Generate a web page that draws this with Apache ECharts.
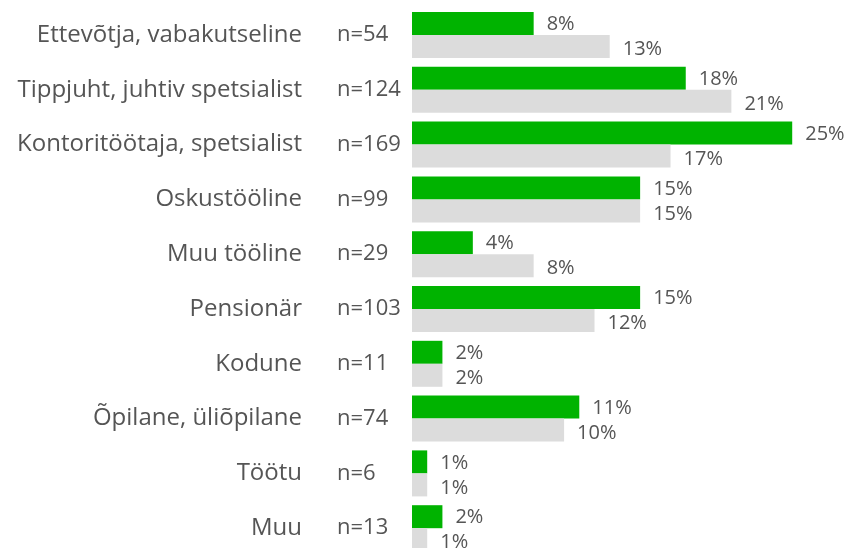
<!DOCTYPE html>
<html><head><meta charset="utf-8">
<script src="https://cdn.jsdelivr.net/npm/echarts@6/dist/echarts.min.js"></script>
<style>html,body{margin:0;padding:0;background:#fff}#c{width:850px;height:548px}</style>
</head><body><div id="c"></div>
<script>
const categories = ["Ettevõtja, vabakutseline","Tippjuht, juhtiv spetsialist","Kontoritöötaja, spetsialist","Oskustööline","Muu tööline","Pensionär","Kodune","Õpilane, üliõpilane","Töötu","Muu"];
const nLabels = ["n=54","n=124","n=169","n=99","n=29","n=103","n=11","n=74","n=6","n=13"];
const greenValues = [8,18,25,15,4,15,2,11,1,2];
const grayValues = [13,21,17,15,8,12,2,10,1,1];

const chart = echarts.init(document.getElementById('c'));
const txt = '#555555';
const font = '"Open Sans", "Noto Sans", sans-serif';
chart.setOption({
  animation:false,
  grid:{left:412, top:7.6, width:438, height:548, outerBoundsMode:'none', containLabel:false},
  xAxis:{type:'value', min:0, max:28.8, show:false},
  yAxis:[
    {type:'category', data:categories, inverse:true, position:'left', offset:0,
     axisLine:{show:false}, axisTick:{show:false},
     axisLabel:{margin:110, color:txt, fontSize:24, fontFamily:font}},
    {type:'category', data:nLabels, inverse:true, position:'left', offset:0,
     axisLine:{show:false}, axisTick:{show:false},
     axisLabel:{margin:75, align:'left', color:txt, fontSize:22, fontFamily:font}}
  ],
  series:[
    {type:'bar', data:greenValues, yAxisIndex:0, barWidth:23, barGap:'0%', barCategoryGap:'16%',
     itemStyle:{color:'#00b300'},
     label:{show:true, position:'right', distance:13, offset:[0,1], formatter:'{c}%', color:txt, fontSize:20, fontFamily:font}},
    {type:'bar', data:grayValues, yAxisIndex:0, barWidth:23, barGap:'0%', barCategoryGap:'16%',
     itemStyle:{color:'#dcdcdc'},
     label:{show:true, position:'right', distance:13, offset:[0,3], formatter:'{c}%', color:txt, fontSize:20, fontFamily:font}}
  ]
});
</script></body></html>
